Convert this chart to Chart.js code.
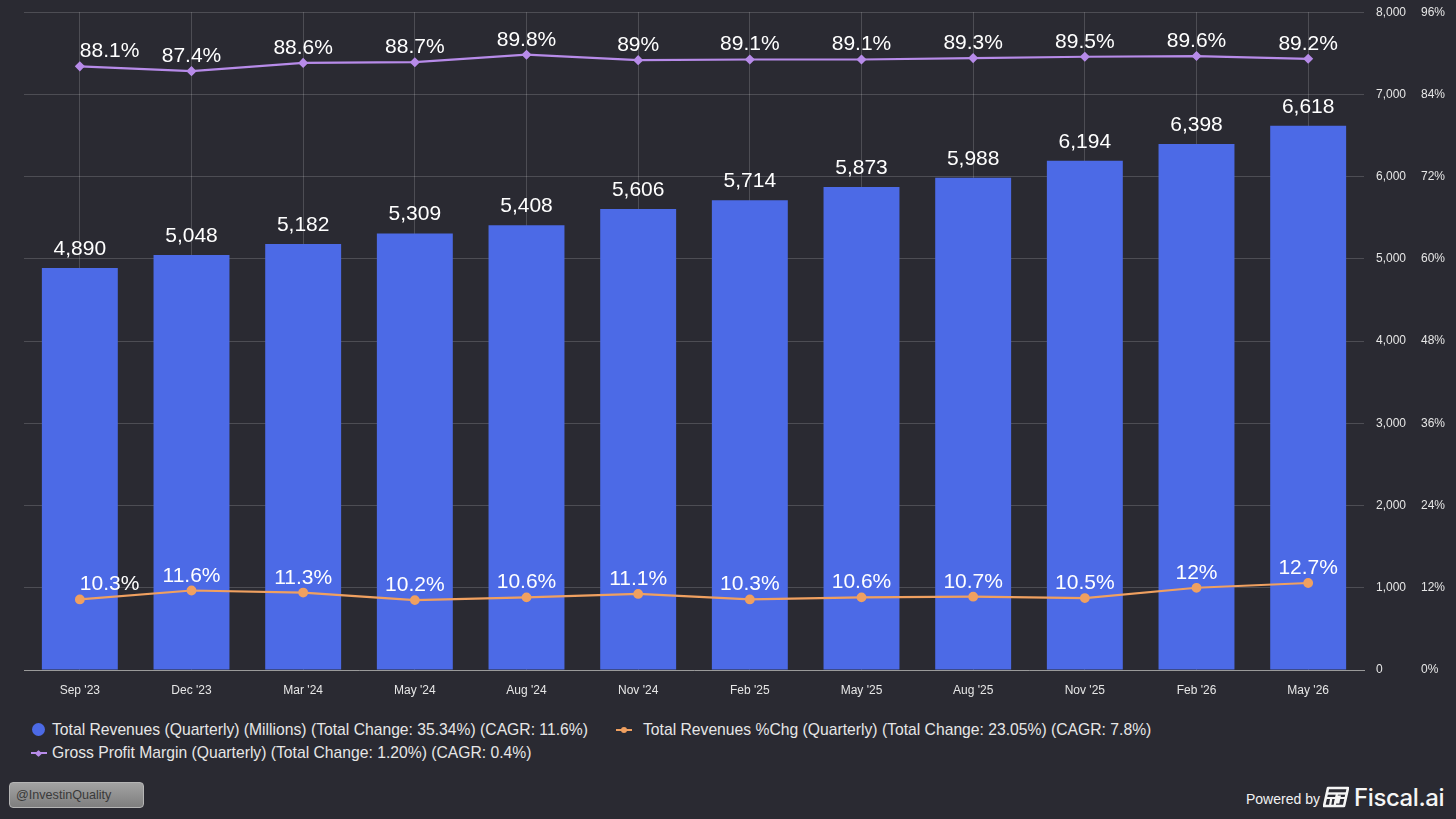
<!DOCTYPE html>
<html>
<head>
<meta charset="utf-8">
<script src="https://cdn.jsdelivr.net/npm/chart.js@4.4.1/dist/chart.umd.min.js"></script>
<style>
  html, body { margin:0; padding:0; background:#2a2a32; width:1456px; height:819px; overflow:hidden; font-family:"Liberation Sans", Arial, Helvetica, sans-serif; }
  #wrap { position:absolute; left:0; top:-10px; width:1456px; height:715px; }
  .leg { position:absolute; color:#e6e6e6; font-size:15.7px; line-height:18px; white-space:nowrap; }
  .dot { position:absolute; width:13px; height:13px; border-radius:50%; background:#4c6ae6; }
  .lm { position:absolute; width:16px; height:2px; }
  .lm i { position:absolute; left:5px; top:-2.5px; width:6px; height:6px; border-radius:50%; }
  #wm { position:absolute; left:9px; top:782px; width:135px; height:26px; border-radius:4px;
        background:linear-gradient(#a3a3a3,#7f7f7f); border:1px solid #b5b5b5; box-sizing:border-box;
        color:#3a3a3a; font-size:12.6px; line-height:24px; padding-left:6px; }
  #pw { position:absolute; left:1246px; top:791px; color:#f2f2f2; font-size:14px; }
  #fs { position:absolute; left:1354px; top:783px; color:#f5f5f5; font-size:24px; font-family:Inter, "Liberation Sans", sans-serif; font-weight:500; letter-spacing:-0.4px; }
  #logo { position:absolute; left:1323px; top:786px; }
</style>
</head>
<body>
<div id="wrap"><canvas id="c" width="1456" height="715"></canvas></div>

<div class="dot" style="left:32px; top:723px;"></div>
<div class="leg" style="left:52px; top:721px;">Total Revenues (Quarterly) (Millions) (Total Change: 35.34%) (CAGR: 11.6%)</div>
<div class="lm" style="left:616px; top:729px; background:#f0a060;"><i style="background:#f0a060;"></i></div>
<div class="leg" style="left:643px; top:721px;">Total Revenues %Chg (Quarterly) (Total Change: 23.05%) (CAGR: 7.8%)</div>
<div class="lm" style="left:31px; top:752px; background:#b78be9;"><i style="background:#b78be9; border-radius:1px; transform:rotate(45deg); width:5px; height:5px; top:-1.5px;"></i></div>
<div class="leg" style="left:52px; top:744px;">Gross Profit Margin (Quarterly) (Total Change: 1.20%) (CAGR: 0.4%)</div>

<div id="wm">@InvestinQuality</div>
<div id="pw">Powered by</div>
<svg id="logo" width="26" height="22" viewBox="0 0 26 22">
  <path d="M5 2 L25 2 L21 20 L1 20 Z" fill="none" stroke="#f5f5f5" stroke-width="2.6" stroke-linejoin="round"/>
  <path d="M4.3 7.5 L23.5 7.5" stroke="#f5f5f5" stroke-width="2.4"/>
  <path d="M3.3 12 L13 12 M14.5 12 L22.5 12" stroke="#f5f5f5" stroke-width="2"/>
  <path d="M8.3 12 L7 20 M14 7.5 L11.5 20" stroke="#f5f5f5" stroke-width="2.2"/>
  <rect x="15" y="9.5" width="5" height="8" fill="#f5f5f5" transform="skewX(-12)"/>
</svg>
<div id="fs">Fiscal.ai</div>

<script>
const categories = ["Sep '23","Dec '23","Mar '24","May '24","Aug '24","Nov '24","Feb '25","May '25","Aug '25","Nov '25","Feb '26","May '26"];
const revenues = [4890, 5048, 5182, 5309, 5408, 5606, 5714, 5873, 5988, 6194, 6398, 6618];
const revenueChg = [10.3, 11.6, 11.3, 10.2, 10.6, 11.1, 10.3, 10.6, 10.7, 10.5, 12, 12.7];
const grossMargin = [88.1, 87.4, 88.6, 88.7, 89.8, 89, 89.1, 89.1, 89.3, 89.5, 89.6, 89.2];
const revenueTicks = [0, 1000, 2000, 3000, 4000, 5000, 6000, 7000, 8000];
const percentTicks = [0, 12, 24, 36, 48, 60, 72, 84, 96];

const labelPlugin = {
  id: 'valueLabels',
  afterDatasetsDraw(chart) {
    const ctx = chart.ctx;
    ctx.save();
    ctx.fillStyle = '#ffffff';
    ctx.font = '21px "Liberation Sans", Arial, sans-serif';
    ctx.textBaseline = 'alphabetic';
    chart.data.datasets.forEach((ds, di) => {
      const meta = chart.getDatasetMeta(di);
      meta.data.forEach((el, i) => {
        const v = ds.data[i];
        let txt, y, align = 'center';
        if (ds.type === 'bar') {
          txt = v.toLocaleString('en-US');
          y = el.y - 13;
        } else {
          txt = v + '%';
          y = el.y - 9;
          if (i === 0) align = 'left';
        }
        ctx.textAlign = align;
        ctx.fillText(txt, el.x, y);
      });
    });
    ctx.restore();
  }
};

const gridColor = 'rgba(255,255,255,0.17)';
new Chart(document.getElementById('c'), {
  data: {
    labels: categories,
    datasets: [
      { type:'line', label:'Gross Profit Margin', data: grossMargin, yAxisID:'y1', order:1,
        borderColor:'#b78be9', backgroundColor:'#b78be9', borderWidth:2.2,
        pointStyle:'rectRot', pointRadius:3.5, tension:0 },
      { type:'line', label:'Total Revenues %Chg', data: revenueChg, yAxisID:'y1', order:1,
        borderColor:'#f0a060', backgroundColor:'#f0a060', borderWidth:2.2,
        pointStyle:'circle', pointRadius:3.8, tension:0 },
      { type:'bar', label:'Total Revenues', data: revenues, yAxisID:'y', order:2,
        backgroundColor:'#4c6ae6', barPercentage:0.68, categoryPercentage:1.0 }
    ]
  },
  options: {
    responsive:false, animation:false,
    layout: { padding: { left:24, top:2, right:0, bottom:0 } },
    plugins: { legend:{ display:false }, tooltip:{ enabled:false } },
    scales: {
      x: {
        grid: { color:gridColor, offset:false, drawTicks:false },
        border: { color:'#9a9a9a', width:1 },
        ticks: { color:'#e6e6e6', font:{ size:12, family:'"Liberation Sans", Arial, sans-serif' }, padding:13, maxRotation:0 },
        afterFit(s){ s.height = 35; }
      },
      y: {
        position:'right', min:0, max:8000,
        afterBuildTicks(s){ s.ticks = revenueTicks.map(v => ({ value:v })); },
        grid: { color:gridColor, drawTicks:false },
        border: { display:false },
        ticks: { color:'#e6e6e6', padding:12, font:{ size:12, family:'"Liberation Sans", Arial, sans-serif' },
                 callback: v => v.toLocaleString('en-US') },
        afterFit(s){ s.width = 42; }
      },
      y1: {
        position:'right', min:0, max:96,
        afterBuildTicks(s){ s.ticks = percentTicks.map(v => ({ value:v })); },
        grid: { display:false, drawTicks:false },
        border: { display:false },
        ticks: { color:'#e6e6e6', padding:15, font:{ size:12, family:'"Liberation Sans", Arial, sans-serif' },
                 callback: v => v + '%' },
        afterFit(s){ s.width = 50; }
      }
    }
  },
  plugins: [labelPlugin]
});
</script>
</body>
</html>
